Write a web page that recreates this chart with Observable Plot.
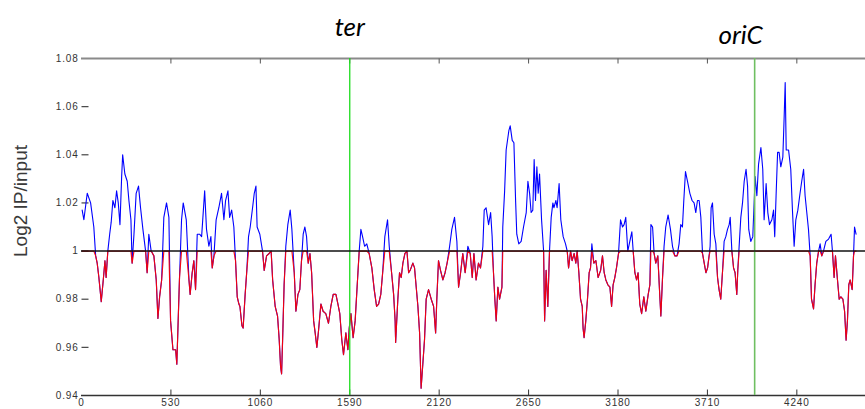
<!DOCTYPE html>
<html>
<head>
<meta charset="utf-8">
<script src="https://cdn.jsdelivr.net/npm/d3@7"></script>
<script src="https://cdn.jsdelivr.net/npm/@observablehq/plot@0.6"></script>
<style>
  html, body { margin: 0; padding: 0; background: #fff; }
  #chart svg { display: block; }
  g[aria-label="y-axis tick label"] text, g[aria-label="x-axis tick label"] text { letter-spacing: 0.8px; }
</style>
</head>
<body>
<div id="chart"></div>
<script>
// Genome position (kb) and Log2 IP/input, in segments
const posA = [4,14,34,54,73, 84,93,103,117,129, 139,146,156,167,176, 186,198,208,218,228, 238,244,257,271,281, 293,300,311,324,338, 350,364,380,389,399, 413,429,443,453,463, 475,488,504,518,528, 542,558,565,573,581, 593,603,621,637,644, 656,666,676,686,700, 712,730,741,755,767, 775,785,798,814,830, 844,854,868,878,890, 903,913,923,933];
const valA = [1.017,1.013,1.024,1.020,1.010, 0.998,0.995,0.989,0.979,0.988, 0.996,0.989,1.000,1.007,1.012, 1.021,1.018,1.025,1.020,1.011, 1.031,1.040,1.032,1.029,1.021, 1.013,0.995,1.007,1.024,1.027, 1.018,1.009,1.000,0.991,1.007, 1.000,0.998,0.988,0.972,0.981, 0.988,1.014,1.020,1.014,0.971, 0.959,0.959,0.953,0.971,0.989, 1.013,1.020,1.013,0.988,0.982, 0.991,0.996,0.984,1.007,1.007, 1.006,1.025,1.009,1.002,1.006, 0.993,0.998,1.013,1.018,1.024, 1.013,1.021,1.025,1.014,1.017, 1.010,0.996,0.981,0.978];

const posB = [939,951,958,970,980, 990,1000,1014,1024,1034, 1041,1057,1073,1083,1097, 1112,1124,1133,1148,1162, 1172,1180,1186,1192,1201, 1211,1223,1237,1247,1261, 1271,1283,1294,1304,1314, 1324,1334,1344,1354,1364, 1376,1385,1395,1405,1419, 1432,1448,1464,1478,1492, 1508,1520,1531,1543,1553, 1567,1579,1587,1597,1610, 1622,1636,1646,1656,1666, 1678,1691,1705,1721,1735, 1749,1761,1774,1785,1798, 1814,1824,1838,1850,1859];
const valB = [0.977,0.969,0.968,0.982,0.992, 1.006,1.010,1.018,1.024,1.027, 1.010,1.007,1.000,0.992,0.998, 0.999,1.000,0.988,0.977,0.973, 0.963,0.952,0.949,0.963,0.986, 1.002,1.011,1.017,1.009,0.991, 0.975,0.982,0.984,0.996,1.007, 1.010,1.006,0.995,0.999,0.991, 0.971,0.966,0.960,0.967,0.978, 0.975,0.974,0.970,0.977,0.982, 0.982,0.978,0.974,0.963,0.957, 0.966,0.959,0.968,0.974,0.964, 0.971,0.988,1.000,1.009,1.006, 1.002,1.003,0.999,0.993,0.984, 0.977,0.978,0.982,0.991,1.006, 1.013,1.002,0.991,0.982,0.971];

const posC = [1862,1875,1885,1895,1905, 1917,1929,1939,1948,1964, 1974,1984,1994,2004,2013, 2023,2033,2043,2057,2073, 2087,2099,2106,2116,2128, 2142,2155,2167,2182,2195, 2211,2225,2235,2247,2260, 2274,2290,2304,2316,2326, 2339,2353,2365,2379,2387, 2398,2413,2425,2434,2442, 2450,2458,2468,2478,2492, 2497,2508,2517,2533,2541, 2553,2563,2573,2580,2592, 2606,2620,2636,2646,2656, 2665,2675,2683,2691,2699, 2707,2715,2727,2739,2745, 2754,2764,2774,2784,2794];
const valC = [0.962,0.980,0.991,0.989,0.995, 0.999,1.000,0.991,0.992,0.995, 0.993,0.985,0.977,0.966,0.943, 0.953,0.963,0.980,0.984,0.980, 0.977,0.966,0.980,0.996,0.992, 0.988,0.991,0.995,1.002,1.009, 1.014,1.004,0.985,0.991,0.999, 0.991,1.002,0.999,0.989,0.999, 0.988,0.995,0.993,1.002,1.017, 1.018,1.011,1.016,1.006,0.991, 0.980,0.971,0.985,0.980,0.985, 1.010,1.025,1.042,1.050,1.052, 1.046,1.045,1.021,1.007,1.003, 1.004,1.010,1.016,1.029,1.024, 1.016,1.017,1.038,1.021,1.035, 1.024,1.032,1.013,1.000,0.971, 0.992,0.977,1.000,1.014,1.020];

const posD = [2800,2812,2819,2831,2841, 2855,2869,2879,2887,2899, 2908,2920,2930,2938,2948, 2958,2968,2973,2979,2989, 2999,3009,3017,3025,3037, 3049,3062,3077,3088,3098, 3108,3120,3132,3142,3151, 3161,3171,3183,3195,3207, 3216,3226,3238,3250,3262, 3270,3280,3290,3299,3309, 3320,3333,3345,3359,3369, 3375,3385,3394,3404,3416, 3428,3434,3444,3453,3463, 3477,3491,3503,3517,3530, 3542,3552,3562,3570,3580, 3592,3606,3619,3631,3641, 3651,3661,3671,3681,3691, 3701,3711,3720];
const valD = [1.018,1.021,1.018,1.028,1.013, 1.006,1.003,1.000,0.993,1.000, 0.996,0.999,0.995,1.000,0.991, 0.980,0.977,0.968,0.964,0.971, 0.980,0.991,0.993,1.003,0.995, 0.996,0.989,0.992,0.998,0.991, 0.988,0.986,0.985,0.977,0.986, 0.989,0.993,0.999,1.013,1.010, 1.011,1.014,1.000,1.004,1.008, 1.000,0.991,0.988,0.991,0.978, 0.974,0.981,0.975,0.982,0.986, 1.011,1.010,0.999,0.995,0.998, 0.981,0.973,0.989,1.002,1.010, 1.015,1.009,1.002,0.998,0.998, 1.003,1.011,1.010,1.021,1.033, 1.029,1.024,1.021,1.020,1.016, 1.021,1.021,1.014,0.999,0.995, 0.991,0.993,0.998];

const posE = [3726,3732,3740,3750,3760, 3770,3779,3789,3800,3809, 3819,3829,3839,3845,3855, 3865,3874,3884,3890,3898, 3908,3918,3928,3939,3948, 3955,3967,3979,3993,4003, 4013,4027,4038,4046,4058, 4068,4078,4092,4102,4109, 4117,4126,4135,4145,4157, 4165,4171,4177,4191,4204, 4214,4224,4234,4246,4259, 4269,4280,4289,4299,4309, 4319,4327,4339,4348,4358, 4369,4378,4388,4398,4412, 4428,4443,4451,4461,4469, 4481,4491,4501,4513,4523, 4532,4540,4548,4556,4568, 4576,4582,4591];
const valE = [1.002,1.018,1.020,1.007,1.003, 0.989,0.984,0.980,0.992,1.004, 1.006,1.009,1.011,1.014,1.000, 0.993,0.991,0.982,0.992,1.002, 1.014,1.020,1.029,1.034,1.027, 1.009,1.004,1.006,1.031,1.023, 1.036,1.043,1.034,1.013,1.028, 1.016,1.011,1.013,1.017,1.006, 1.023,1.041,1.041,1.035,1.039, 1.056,1.070,1.042,1.042,1.034, 1.017,1.002,1.013,1.017,1.024, 1.029,1.034,1.023,1.016,1.009, 0.998,0.980,0.976,0.986,0.995, 1.000,1.003,0.998,1.000,1.004, 1.005,1.007,1.000,0.989,0.998, 0.988,0.980,0.981,0.980,0.975, 0.963,0.971,0.986,0.988,0.984, 0.998,1.010,1.007];

const xTicks = [0, 530, 1060, 1590, 2120, 2650, 3180, 3710, 4240];
const yTicks = [0.94, 0.96, 0.98, 1.00, 1.02, 1.04, 1.06, 1.08];
const baseline = 1;
const annotLabels = ["ter", "oriC"];
const annotPos = [1590, 3990];
const yLabel = "Log2 IP/input";

// build table
const positions = [...posA, ...posB, ...posC, ...posD, ...posE];
const values = [...valA, ...valB, ...valC, ...valD, ...valE];
const data = positions.map((p, i) => ({pos: p, v: values[i]})).filter(d => d.v !== undefined);

const tickUp = {draw(ctx) { ctx.moveTo(0, 0); ctx.lineTo(0, -6); }};
const tickDown = {draw(ctx) { ctx.moveTo(0, 0); ctx.lineTo(0, 5); }};
const tickRight = {draw(ctx) { ctx.moveTo(0, 0); ctx.lineTo(7, 0); }};

const chart = Plot.plot({
  width: 865,
  height: 409,
  marginLeft: 81,
  marginRight: 0,
  marginTop: 58,
  marginBottom: 14,
  style: {fontFamily: "'Liberation Sans', Arial, sans-serif", fontSize: "10px", color: "#333", background: "#fff", overflow: "visible"},
  x: {domain: [0, 4647], ticks: xTicks, tickFormat: d => String(d), tickSize: 0, tickPadding: 3, label: null},
  y: {domain: [0.94, 1.08], ticks: yTicks, tickFormat: d => String(+d.toFixed(2)), tickSize: 0, tickPadding: 3, label: null},
  marks: [
    Plot.ruleY([yTicks[yTicks.length - 1]], {stroke: "#8a8a8a", strokeWidth: 2}),
    Plot.ruleY([yTicks[0]], {stroke: "#333", strokeWidth: 1.5}),
    Plot.dot(xTicks.filter(d => d > 0), {x: d => d, frameAnchor: "bottom", symbol: tickUp, stroke: "#333", fill: "none", strokeWidth: 1}),
    Plot.dot(xTicks.filter(d => d > 0), {x: d => d, frameAnchor: "top", symbol: tickDown, stroke: "#555", fill: "none", strokeWidth: 1}),
    Plot.dot(yTicks.slice(1, -1), {y: d => d, frameAnchor: "left", symbol: tickRight, stroke: "#444", fill: "none", strokeWidth: 1.2}),
    Plot.line(data, {x: "pos", y: "v", stroke: "#0000ff", strokeWidth: 1.1}),
    Plot.line(data, {x: "pos", y: d => Math.min(d.v, baseline), stroke: "#ff0000", strokeWidth: 1.15, strokeOpacity: 0.93}),
    Plot.ruleX([annotPos[0]], {stroke: "#1fdc1f", strokeWidth: 1.3}),
    Plot.ruleX([annotPos[1]], {stroke: "#6fbf62", strokeWidth: 1.6}),
    Plot.ruleY([baseline], {stroke: "#111", strokeWidth: 1.6}),
    Plot.text([annotLabels[0]], {x: annotPos[0], frameAnchor: "top", lineAnchor: "bottom", dy: -23, fontFamily: "Lato, 'Open Sans', sans-serif", fontStyle: "italic", fontSize: 26, fill: "#000"}),
    Plot.text([annotLabels[1]], {x: annotPos[1], frameAnchor: "top", lineAnchor: "bottom", dx: -14, dy: -15, fontFamily: "Lato, 'Open Sans', sans-serif", fontStyle: "italic", fontSize: 26, fill: "#000"}),
    Plot.text([yLabel], {frameAnchor: "left", textAnchor: "middle", rotate: -90, dx: -61, dy: -26, fontSize: 19, fill: "#3a3a3a"})
  ]
});
document.getElementById("chart").appendChild(chart);
</script>
</body>
</html>
